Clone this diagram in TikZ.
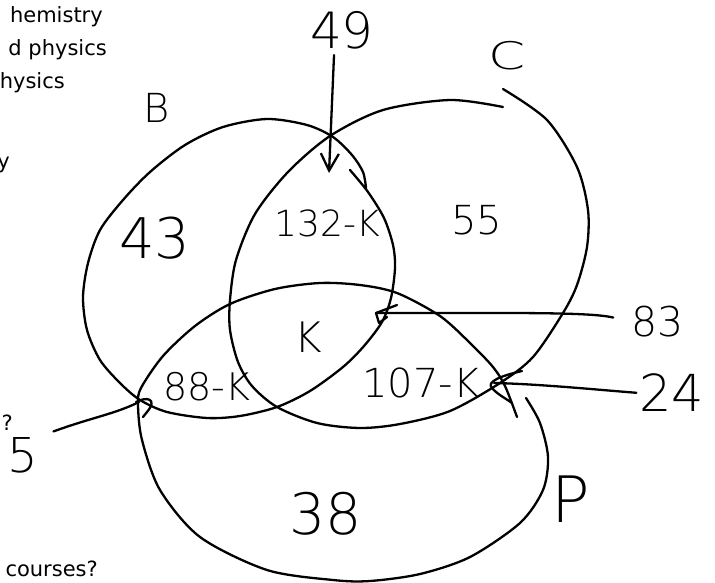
\documentclass[tikz,border=0pt]{standalone}
\usepackage{fontspec}
\setmainfont{DejaVu Sans}
\newfontfamily\printed{DejaVu Sans}
\IfFontExistsTF{DejaVuSans-ExtraLight.ttf}
  {\newfontfamily\hand{DejaVuSans-ExtraLight.ttf}}
  {\newfontfamily\hand{Fira Sans}}
\usetikzlibrary{arrows.meta}
\tikzset{
  curve/.style={line width=2.3pt, line cap=round, line join=round},
  hs/.style={font={\hand\fontsize{#1}{#1}\selectfont}, inner sep=0pt},
  pr/.style={font={\printed\fontsize{21}{21}\selectfont}, inner sep=0pt, anchor=base east},
}
\begin{document}
\begin{tikzpicture}[x=1pt,y=-1pt]
\useasboundingbox (0,0) rectangle (715,582);
\clip (0,0) rectangle (715,582);

% printed text (cut off at the left edge)
\node[pr] (t1) at (103,22) {hemistry};
\node[pr] (t2) at (107,55) {d physics};
\node[pr] (t3) at (65,88) {hysics};
\node[pr] (t4) at (10,168) {y};
\node[pr] (t5) at (13,430) {?};
\node[pr] (t6) at (98,576) {courses?};

% circle B
\draw[curve] plot[smooth] coordinates {(350,170) (368,192) (384,218) (393,245) (395,268) (391,298) (382,322) (364,346) (343,367) (310,391) (277,407) (240,416) (207,418) (167,412) (140,400) (120,383) (100,360) (87,330) (83,297) (88,263) (100,230) (123,200) (150,172) (185,145) (223,127) (267,119) (307,125) (333,137) (352,155) (363,172) (366,188)};

% circle C
\draw[curve] plot[smooth] coordinates {(503,89) (547,120) (577,167) (588,210) (587,247) (577,285) (563,313) (533,357) (500,383) (450,411) (400,424) (360,428) (317,423) (277,407) (252,386) (238,362) (230,330) (230,300) (236,260) (255,214) (288,172) (330,136) (383,110) (450,100) (503,107)};

% circle P
\draw[curve] plot[smooth] coordinates {(526,398) (540,423) (548,457) (543,490) (520,523) (470,557) (420,574) (370,581) (333,580) (267,570) (200,537) (160,490) (142,440) (138,405) (141,388) (163,356) (195,326) (230,304) (275,289) (320,283) (360,285) (397,293) (440,316) (470,343) (493,367) (505,386) (517,417)};

% set labels
\node[hs=40] (lB) at (157,108) {B};
\node[hs=38, xscale=1.4] (lC) at (507,56) {C};
\node[hs=64] (lP) at (571,499) {P};

% region labels
\node[hs=56] (r43) at (155,238) {43};
\node[hs=36] (r132) at (327,223) {132-K};
\node[hs=40] (r55) at (477,220) {55};
\node[hs=42] (rK) at (308,337) {K};
\node[hs=38] (r88) at (207,387) {88-K};
\node[hs=40] (r107) at (421,383) {107-K};
\node[hs=57] (r38) at (326,514) {38};

% outside numbers
\node[hs=50] (n49) at (342,30) {49};
\node[hs=41] (n83) at (658,322) {83};
\node[hs=51] (n24) at (672,393) {24};
\node[hs=48] (n5) at (23,455) {5};

\coordinate (t49) at (329,173);
\coordinate (t83) at (376,313);
\coordinate (t24) at (494,383);
\coordinate (t5) at (139,402);

% 49 arrow
\draw[curve, shorten <=6pt, -{Straight Barb[length=17pt,width=18pt]}] (n49.-112) -- (t49);
% 83 arrow
\draw[curve, shorten <=19pt] (n83.west) .. controls (590,312) and (520,313) .. (t83);
\draw[curve] (397,305) -- (t83) -- (379,323) -- (387,317);
% 24 arrow
\draw[curve, shorten <=3pt] (n24.west) .. controls (600,390) and (540,384) .. (t24);
\draw[curve] (522,371) .. controls (500,376) and (486,382) .. (492,388) .. controls (497,394) and (505,398) .. (512,403);
% 5 arrow
\draw[curve, shorten <=16pt] (n5.north east) .. controls (90,418) and (115,414) .. (t5);
\draw[curve] (136,402) .. controls (147,396) and (158,399) .. (147,412) -- (143,417);
\end{tikzpicture}
\end{document}
